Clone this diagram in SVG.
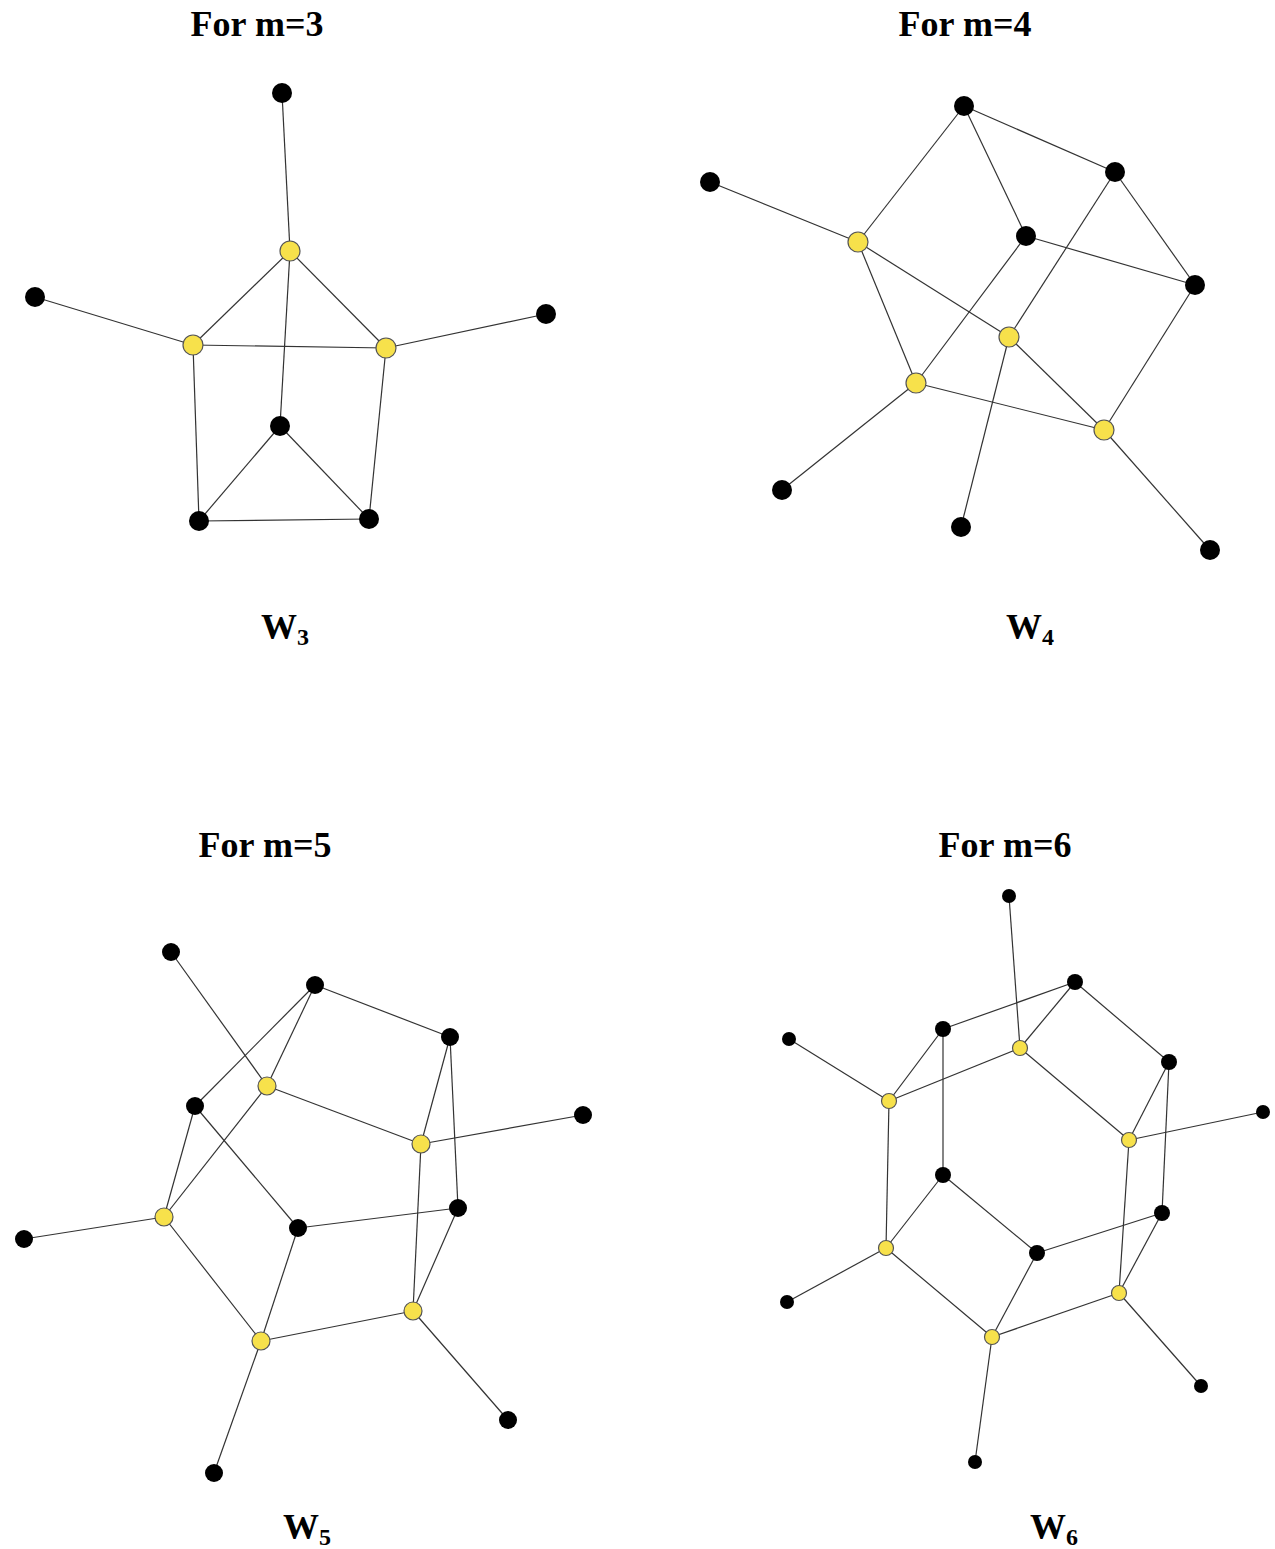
<svg xmlns="http://www.w3.org/2000/svg" width="1275" height="1549" viewBox="0 0 1275 1549">
<style>
.t{font-family:"Liberation Serif","Times New Roman",serif;font-weight:bold;font-size:36px;fill:#000}
.s{font-size:24px}
.e line{stroke:#333;stroke-width:1.2}
.b{fill:#000}
.y{fill:#f7e14b;stroke:#555;stroke-width:1.2}
</style>
<rect width="1275" height="1549" fill="#fff"/>
<g id="titles">
<text class="t" x="257" y="36" text-anchor="middle">For m=3</text>
<text class="t" x="965" y="36" text-anchor="middle">For m=4</text>
<text class="t" x="265" y="857" text-anchor="middle">For m=5</text>
<text class="t" x="1005" y="857" text-anchor="middle">For m=6</text>
<text class="t" x="261" y="639">W<tspan class="s" dy="6">3</tspan></text>
<text class="t" x="1006" y="639">W<tspan class="s" dy="6">4</tspan></text>
<text class="t" x="283" y="1539">W<tspan class="s" dy="6">5</tspan></text>
<text class="t" x="1030" y="1539">W<tspan class="s" dy="6">6</tspan></text>
</g>
<g id="connectors" class="e">
<!-- W3 -->
<line x1="282" y1="93" x2="290" y2="251"/>
<line x1="35" y1="297" x2="193" y2="345"/>
<line x1="546" y1="314" x2="386" y2="348"/>
<line x1="290" y1="251" x2="193" y2="345"/>
<line x1="290" y1="251" x2="386" y2="348"/>
<line x1="193" y1="345" x2="386" y2="348"/>
<line x1="290" y1="251" x2="280" y2="426"/>
<line x1="193" y1="345" x2="199" y2="521"/>
<line x1="386" y1="348" x2="369" y2="519"/>
<line x1="280" y1="426" x2="199" y2="521"/>
<line x1="280" y1="426" x2="369" y2="519"/>
<line x1="199" y1="521" x2="369" y2="519"/>
<!-- W4 -->
<line x1="710" y1="182" x2="858" y2="242"/>
<line x1="858" y1="242" x2="964" y2="106"/>
<line x1="964" y1="106" x2="1115" y2="172"/>
<line x1="964" y1="106" x2="1026" y2="236"/>
<line x1="1115" y1="172" x2="1195" y2="285"/>
<line x1="1115" y1="172" x2="1009" y2="337"/>
<line x1="1026" y1="236" x2="1195" y2="285"/>
<line x1="1026" y1="236" x2="916" y2="383"/>
<line x1="1195" y1="285" x2="1104" y2="430"/>
<line x1="858" y1="242" x2="1009" y2="337"/>
<line x1="858" y1="242" x2="916" y2="383"/>
<line x1="1009" y1="337" x2="1104" y2="430"/>
<line x1="1009" y1="337" x2="961" y2="527"/>
<line x1="916" y1="383" x2="1104" y2="430"/>
<line x1="916" y1="383" x2="782" y2="490"/>
<line x1="1104" y1="430" x2="1210" y2="550"/>
<!-- W5 -->
<line x1="171" y1="952" x2="267" y2="1086"/>
<line x1="315" y1="985" x2="450" y2="1037"/>
<line x1="315" y1="985" x2="267" y2="1086"/>
<line x1="315" y1="985" x2="195" y2="1106"/>
<line x1="267" y1="1086" x2="421" y2="1144"/>
<line x1="267" y1="1086" x2="164" y2="1217"/>
<line x1="450" y1="1037" x2="421" y2="1144"/>
<line x1="450" y1="1037" x2="458" y2="1208"/>
<line x1="421" y1="1144" x2="583" y2="1115"/>
<line x1="421" y1="1144" x2="413" y2="1311"/>
<line x1="195" y1="1106" x2="164" y2="1217"/>
<line x1="195" y1="1106" x2="298" y2="1228"/>
<line x1="164" y1="1217" x2="24" y2="1239"/>
<line x1="164" y1="1217" x2="261" y2="1341"/>
<line x1="298" y1="1228" x2="458" y2="1208"/>
<line x1="298" y1="1228" x2="261" y2="1341"/>
<line x1="458" y1="1208" x2="413" y2="1311"/>
<line x1="413" y1="1311" x2="261" y2="1341"/>
<line x1="413" y1="1311" x2="508" y2="1420"/>
<line x1="261" y1="1341" x2="214" y2="1473"/>
<!-- W6 -->
<line x1="1009" y1="896" x2="1020" y2="1048"/>
<line x1="943" y1="1029" x2="1075" y2="982"/>
<line x1="1075" y1="982" x2="1020" y2="1048"/>
<line x1="1075" y1="982" x2="1169" y2="1062"/>
<line x1="943" y1="1029" x2="889" y2="1101"/>
<line x1="943" y1="1029" x2="943" y2="1175"/>
<line x1="1020" y1="1048" x2="889" y2="1101"/>
<line x1="1020" y1="1048" x2="1129" y2="1140"/>
<line x1="789" y1="1039" x2="889" y2="1101"/>
<line x1="889" y1="1101" x2="886" y2="1248"/>
<line x1="1169" y1="1062" x2="1129" y2="1140"/>
<line x1="1169" y1="1062" x2="1162" y2="1213"/>
<line x1="1129" y1="1140" x2="1263" y2="1112"/>
<line x1="1129" y1="1140" x2="1119" y2="1293"/>
<line x1="943" y1="1175" x2="886" y2="1248"/>
<line x1="943" y1="1175" x2="1037" y2="1253"/>
<line x1="1037" y1="1253" x2="1162" y2="1213"/>
<line x1="1037" y1="1253" x2="992" y2="1337"/>
<line x1="886" y1="1248" x2="787" y2="1302"/>
<line x1="886" y1="1248" x2="992" y2="1337"/>
<line x1="1162" y1="1213" x2="1119" y2="1293"/>
<line x1="1119" y1="1293" x2="992" y2="1337"/>
<line x1="1119" y1="1293" x2="1201" y2="1386"/>
<line x1="992" y1="1337" x2="975" y2="1462"/>
</g>
<g id="w3-nodes">
<circle id="w3-p1" class="b" cx="282" cy="93" r="10"/>
<circle id="w3-p2" class="b" cx="35" cy="297" r="10"/>
<circle id="w3-p3" class="b" cx="546" cy="314" r="10"/>
<circle id="w3-c" class="b" cx="280" cy="426" r="10"/>
<circle id="w3-bl" class="b" cx="199" cy="521" r="10"/>
<circle id="w3-br" class="b" cx="369" cy="519" r="10"/>
<circle id="w3-y1" class="y" cx="290" cy="251" r="10"/>
<circle id="w3-y2" class="y" cx="193" cy="345" r="10"/>
<circle id="w3-y3" class="y" cx="386" cy="348" r="10"/>
</g>
<g id="w4-nodes">
<circle id="w4-b1" class="b" cx="964" cy="106" r="10"/>
<circle id="w4-b2" class="b" cx="1115" cy="172" r="10"/>
<circle id="w4-b3" class="b" cx="1026" cy="236" r="10"/>
<circle id="w4-b4" class="b" cx="1195" cy="285" r="10"/>
<circle id="w4-p1" class="b" cx="710" cy="182" r="10"/>
<circle id="w4-p2" class="b" cx="782" cy="490" r="10"/>
<circle id="w4-p3" class="b" cx="961" cy="527" r="10"/>
<circle id="w4-p4" class="b" cx="1210" cy="550" r="10"/>
<circle id="w4-y1" class="y" cx="858" cy="242" r="10"/>
<circle id="w4-y2" class="y" cx="1009" cy="337" r="10"/>
<circle id="w4-y3" class="y" cx="916" cy="383" r="10"/>
<circle id="w4-y4" class="y" cx="1104" cy="430" r="10"/>
</g>
<g id="w5-nodes">
<circle id="w5-p1" class="b" cx="171" cy="952" r="9"/>
<circle id="w5-p2" class="b" cx="583" cy="1115" r="9"/>
<circle id="w5-p3" class="b" cx="24" cy="1239" r="9"/>
<circle id="w5-p4" class="b" cx="508" cy="1420" r="9"/>
<circle id="w5-p5" class="b" cx="214" cy="1473" r="9"/>
<circle id="w5-b1" class="b" cx="315" cy="985" r="9"/>
<circle id="w5-b2" class="b" cx="450" cy="1037" r="9"/>
<circle id="w5-b3" class="b" cx="195" cy="1106" r="9"/>
<circle id="w5-b4" class="b" cx="458" cy="1208" r="9"/>
<circle id="w5-b5" class="b" cx="298" cy="1228" r="9"/>
<circle id="w5-y1" class="y" cx="267" cy="1086" r="9"/>
<circle id="w5-y2" class="y" cx="421" cy="1144" r="9"/>
<circle id="w5-y3" class="y" cx="164" cy="1217" r="9"/>
<circle id="w5-y4" class="y" cx="413" cy="1311" r="9"/>
<circle id="w5-y5" class="y" cx="261" cy="1341" r="9"/>
</g>
<g id="w6-nodes">
<circle id="w6-p1" class="b" cx="1009" cy="896" r="7"/>
<circle id="w6-p2" class="b" cx="789" cy="1039" r="7"/>
<circle id="w6-p3" class="b" cx="1263" cy="1112" r="7"/>
<circle id="w6-p4" class="b" cx="787" cy="1302" r="7"/>
<circle id="w6-p5" class="b" cx="1201" cy="1386" r="7"/>
<circle id="w6-p6" class="b" cx="975" cy="1462" r="7"/>
<circle id="w6-b1" class="b" cx="1075" cy="982" r="8"/>
<circle id="w6-b2" class="b" cx="943" cy="1029" r="8"/>
<circle id="w6-b3" class="b" cx="1169" cy="1062" r="8"/>
<circle id="w6-b4" class="b" cx="943" cy="1175" r="8"/>
<circle id="w6-b5" class="b" cx="1162" cy="1213" r="8"/>
<circle id="w6-b6" class="b" cx="1037" cy="1253" r="8"/>
<circle id="w6-y1" class="y" cx="1020" cy="1048" r="7.5"/>
<circle id="w6-y2" class="y" cx="889" cy="1101" r="7.5"/>
<circle id="w6-y3" class="y" cx="1129" cy="1140" r="7.5"/>
<circle id="w6-y4" class="y" cx="886" cy="1248" r="7.5"/>
<circle id="w6-y5" class="y" cx="1119" cy="1293" r="7.5"/>
<circle id="w6-y6" class="y" cx="992" cy="1337" r="7.5"/>
</g>
</svg>
